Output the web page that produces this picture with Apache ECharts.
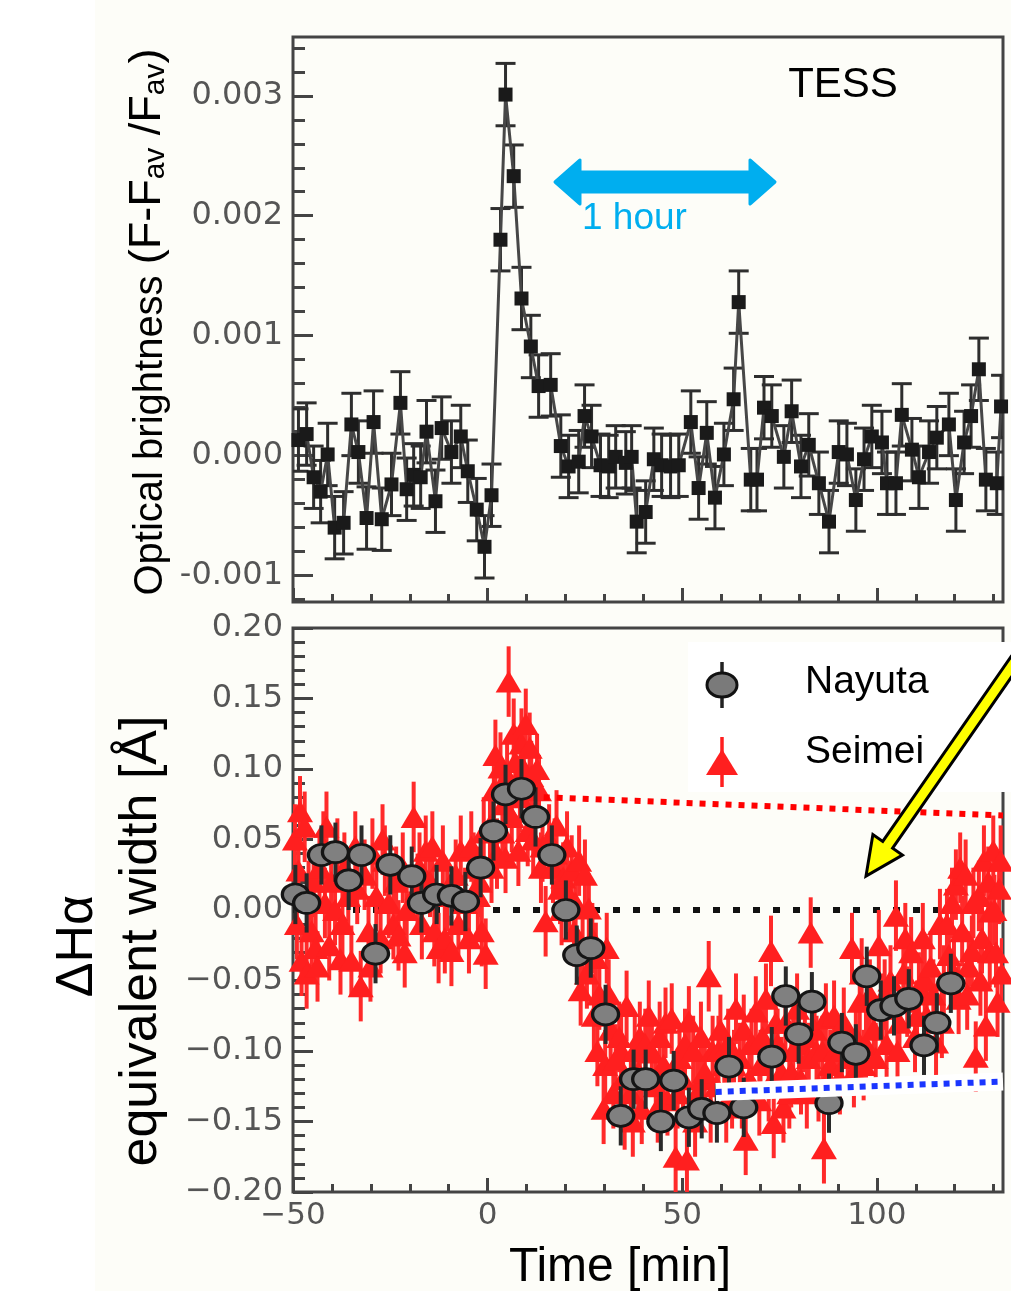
<!DOCTYPE html>
<html>
<head>
<meta charset="utf-8">
<script src="https://cdn.jsdelivr.net/npm/echarts@6/dist/echarts.min.js"></script>
<style>
html, body { margin: 0; padding: 0; background: #fff; }
#main { width: 1011px; height: 1291px; }
</style>
</head>
<body>
<div id="main"></div>
<script>
// TESS light curve [time (min), (F-Fav)/Fav]
var tessData = [
  [-48.6, 0.00013], [-46.5, 0.00018], [-44.7, -0.00018], [-42.9, -0.00030], [-41.1, 0.00001],
  [-39.3, -0.00060], [-37.0, -0.00056], [-35.0, 0.00026], [-33.2, 0.00003], [-31.1, -0.00052],
  [-29.3, 0.00028], [-27.2, -0.00053], [-24.7, -0.00024], [-22.4, 0.00044], [-20.8, -0.00028],
  [-19.0, -0.00016], [-17.2, -0.00018], [-15.7, 0.00020], [-13.4, -0.00038], [-11.8, 0.00023],
  [-9.3, 0.00003], [-6.9, 0.00016], [-5.1, -0.00013], [-2.8, -0.00045], [-0.8, -0.00076],
  [1.0, -0.00033], [3.3, 0.00180], [4.6, 0.00301], [6.7, 0.00233], [8.7, 0.00131],
  [11.1, 0.00091], [13.1, 0.00058], [16.2, 0.00059], [18.8, 0.00008], [20.8, -0.00009],
  [23.4, -0.00005], [24.9, 0.00033], [26.7, 0.00016], [29.0, -0.00008], [31.1, -0.00009],
  [32.9, -0.00001], [35.5, -0.00006], [37.0, -0.00001], [38.3, -0.00055], [40.6, -0.00047],
  [42.7, -0.00003], [44.7, -0.00008], [47.0, -0.00009], [49.1, -0.00008], [52.2, 0.00028],
  [54.2, -0.00027], [56.3, 0.00019], [58.4, -0.00035], [60.7, 0.00001], [63.2, 0.00047],
  [64.5, 0.00128], [67.6, -0.00020], [69.2, -0.00020], [71.0, 0.00040], [73.0, 0.00033],
  [76.1, -0.00001], [78.1, 0.00037], [80.5, -0.00009], [82.5, 0.00009], [85.1, -0.00023],
  [87.7, -0.00055], [90.2, 0.00003], [92.3, 0.00001], [94.6, -0.00037], [96.7, -0.00003],
  [98.7, 0.00016], [101.3, 0.00011], [102.6, -0.00023], [104.9, -0.00023], [106.4, 0.00034],
  [109.0, 0.00005], [110.8, -0.00018], [113.4, 0.00003], [115.4, 0.00015], [118.5, 0.00026],
  [120.3, -0.00037], [122.4, 0.00011], [124.2, 0.00033], [126.2, 0.00072], [128.0, -0.00020],
  [130.8, -0.00023], [131.9, 0.00041]
];
var tessErr = 0.00026;

// Nayuta H-alpha equivalent width change [time (min), value]
var nayutaData = [
  [-49.4, 0.011], [-46.5, 0.005], [-42.7, 0.039], [-39.1, 0.041], [-35.7, 0.021],
  [-32.4, 0.039], [-28.8, -0.031], [-25.0, 0.032], [-19.5, 0.024], [-17.0, 0.005],
  [-13.1, 0.011], [-9.3, 0.010], [-5.7, 0.006], [-1.8, 0.030], [1.5, 0.056],
  [4.6, 0.082], [8.7, 0.086], [12.3, 0.066], [16.5, 0.039], [20.1, 0.000],
  [22.9, -0.032], [26.5, -0.027], [30.3, -0.074], [34.2, -0.146], [37.5, -0.120],
  [40.6, -0.120], [44.5, -0.150], [47.8, -0.121], [51.7, -0.147], [55.0, -0.141],
  [58.9, -0.144], [62.0, -0.111], [65.8, -0.140], [73.0, -0.104], [76.6, -0.061],
  [79.9, -0.088], [83.3, -0.065], [87.7, -0.137], [91.0, -0.094], [94.6, -0.102],
  [97.4, -0.047], [101.0, -0.071], [104.4, -0.068], [108.2, -0.063], [112.1, -0.096],
  [115.4, -0.080], [119.0, -0.052]
];
var nayutaErr = 0.021;

// Seimei H-alpha equivalent width change [time (min), value]
var seimeiData = [
  // before the flare
  [-49.5, 0.050], [-49.0, -0.010], [-48.6, 0.028], [-48.2, 0.070], [-47.8, -0.036],
  [-47.0, 0.059], [-46.5, -0.045], [-46.0, 0.010], [-45.2, -0.015], [-44.7, 0.020],
  [-44.2, -0.027], [-43.7, -0.040], [-43.2, 0.030], [-42.2, 0.045], [-41.8, 0.005],
  [-41.4, 0.059], [-40.7, -0.025], [-40.2, 0.020], [-39.2, 0.000], [-38.6, 0.040],
  [-37.8, -0.035], [-37.3, -0.010], [-36.8, 0.030], [-35.8, 0.010], [-35.0, -0.036],
  [-34.0, 0.045], [-33.5, 0.015], [-32.6, -0.054], [-31.6, 0.025], [-30.6, -0.015],
  [-30.1, -0.040], [-29.6, 0.040], [-28.6, 0.010], [-27.5, -0.020], [-27.0, 0.050],
  [-26.4, 0.035], [-25.4, 0.005], [-24.2, -0.010], [-23.5, 0.020], [-22.9, -0.018],
  [-21.8, 0.030], [-21.3, -0.030], [-20.8, 0.000], [-19.0, 0.066], [-18.0, 0.015],
  [-17.5, 0.030], [-16.9, -0.010], [-15.9, 0.042], [-14.8, 0.020], [-14.2, 0.045],
  [-13.7, -0.015], [-12.6, -0.027], [-11.5, 0.035], [-11.0, -0.020], [-10.4, 0.010],
  [-9.3, -0.029], [-8.2, 0.025], [-7.5, -0.010], [-6.9, 0.042], [-5.8, 0.005],
  [-4.8, -0.020], [-4.2, 0.045], [-3.6, 0.030], [-2.5, 0.010], [-2.0, 0.020],
  [-1.5, -0.015], [-1.0, 0.055], [-0.5, -0.031],
  // flare peak
  [0.6, 0.060], [1.0, 0.030], [1.6, 0.085], [2.0, 0.110], [2.4, 0.040],
  [3.3, 0.101], [3.8, 0.055], [4.2, 0.075], [4.6, 0.037], [5.0, 0.095],
  [5.4, 0.162], [6.2, 0.066], [6.7, 0.125], [7.1, 0.105], [7.9, 0.042],
  [8.3, 0.080], [8.7, 0.118], [9.3, 0.100], [9.8, 0.132], [10.3, 0.056],
  [10.8, 0.115], [11.2, 0.095], [11.7, 0.050], [12.2, 0.070], [12.7, 0.100],
  [13.2, 0.085], [13.7, 0.030], [14.1, 0.045], [14.9, -0.008],
  // decline
  [15.8, 0.050], [16.8, 0.030], [17.2, 0.040], [17.7, 0.060], [18.6, 0.015],
  [19.0, 0.000], [19.4, 0.023], [20.4, 0.045], [21.0, 0.010], [21.6, 0.028],
  [22.2, -0.015], [22.6, 0.005], [23.5, 0.035], [23.9, -0.057], [24.4, -0.030],
  [25.0, 0.025], [25.5, -0.045], [26.0, 0.001], [26.9, -0.020], [27.3, -0.075],
  [27.8, -0.034], [28.2, -0.100], [28.7, -0.060], [29.8, -0.141], [30.2, -0.110],
  [30.6, -0.027], [31.1, -0.060], [31.6, -0.085], [32.3, -0.130], [32.9, -0.106],
  [33.8, -0.090], [34.3, -0.100], [34.8, -0.120], [35.2, -0.145], [35.7, -0.068],
  // low state
  [36.8, -0.130], [37.3, -0.150], [37.8, -0.100], [38.7, -0.115], [39.1, -0.090],
  [39.6, -0.141], [40.5, -0.095], [41.4, -0.075], [42.2, -0.101], [43.2, -0.125],
  [43.7, -0.140], [44.2, -0.090], [45.2, -0.110], [45.7, -0.080], [46.2, -0.135],
  [47.3, -0.077], [48.3, -0.175], [48.8, -0.130], [49.3, -0.105], [50.2, -0.120],
  [50.7, -0.095], [51.2, -0.177], [51.7, -0.079], [52.8, -0.100], [53.3, -0.150],
  [53.8, -0.130], [54.8, -0.090], [55.3, -0.120], [55.8, -0.115], [56.8, -0.047],
  [57.3, -0.140], [57.8, -0.100], [58.8, -0.125], [59.3, -0.100], [59.8, -0.085],
  [60.8, -0.110], [61.3, -0.140], [61.8, -0.095], [62.8, -0.130], [63.3, -0.110],
  [63.8, -0.070], [64.8, -0.105], [65.3, -0.130], [65.8, -0.085], [66.3, -0.163],
  [67.2, -0.120], [67.8, -0.095], [68.9, -0.072], [69.8, -0.135], [70.1, -0.110],
  [70.6, -0.090], [71.5, -0.063], [72.2, -0.125], [72.8, -0.029], [73.5, -0.151],
  [74.0, -0.080], [74.5, -0.095], [75.5, -0.115], [76.0, -0.140], [76.5, -0.080],
  [77.5, -0.130], [78.0, -0.115], [78.5, -0.100], [79.5, -0.070], [80.0, -0.095],
  [80.5, -0.120], [81.5, -0.090], [82.0, -0.130], [82.5, -0.105], [83.0, -0.016],
  [84.0, -0.085], [84.5, -0.100], [85.0, -0.125], [86.0, -0.100], [86.4, -0.169],
  [86.9, -0.077], [87.5, -0.120], [88.0, -0.110], [89.0, -0.075], [89.5, -0.099],
  // recovery
  [90.5, -0.120], [91.0, -0.100], [91.5, -0.080], [92.5, -0.105], [93.6, -0.027],
  [94.1, -0.115], [94.6, -0.090], [95.6, -0.065], [96.1, -0.045], [96.6, -0.110],
  [97.2, -0.096], [98.2, -0.060], [99.2, -0.085], [99.7, -0.105], [100.5, -0.025],
  [101.5, -0.070], [102.0, -0.060], [102.5, -0.095], [103.5, -0.050], [104.9, -0.004],
  [105.3, -0.100], [105.8, -0.080], [106.8, -0.045], [107.3, -0.020], [107.8, -0.065],
  [108.8, -0.030], [109.8, -0.090], [110.3, -0.075], [110.8, -0.055], [111.8, -0.020],
  [112.3, -0.050], [112.8, -0.075], [113.8, -0.040], [114.5, -0.060], [115.2, -0.094],
  [116.2, -0.010], [116.7, -0.080], [117.2, -0.050], [118.0, -0.010], [118.5, -0.032],
  [119.3, 0.005], [119.8, -0.045], [120.3, 0.018], [121.0, -0.063], [121.4, 0.030],
  [121.9, -0.015], [122.8, 0.025], [123.2, -0.060], [123.6, -0.040], [124.4, -0.029],
  [124.8, 0.005], [125.4, -0.104], [126.2, 0.010], [126.6, -0.050], [127.0, -0.020],
  [127.5, 0.035], [128.0, -0.082], [128.6, 0.020], [129.0, -0.030], [129.3, -0.001],
  [129.9, 0.042], [130.2, 0.000], [130.6, -0.030], [131.0, -0.065], [131.4, 0.015],
  [131.8, 0.035], [132.1, -0.045]
];
var seimeiErr = 0.025;

// reference lines drawn on the lower panel
var zeroLine = [[-50, 0], [132.4, 0]];
var redLevel = [[14.4, 0.080], [132.4, 0.067]];
var blueLevel = [[58.6, -0.129], [132.4, -0.1217]];

// axis ticks
var timeTicks = [-50, 0, 50, 100];
var topTicks = [-0.001, 0, 0.001, 0.002, 0.003];
var bottomTicks = [-0.2, -0.15, -0.1, -0.05, 0, 0.05, 0.1, 0.15, 0.2];

function steps(a, b, s) {
  var out = [];
  for (var v = a; v <= b + s / 2; v += s) out.push(Math.round(v / s) * s);
  return out;
}
var timeMinor = steps(-50, 130, 10);
var topMinor = steps(-0.0012, 0.0034, 0.0002);
var bottomMinor = steps(-0.2, 0.2, 0.01);

var FONT = 'Liberation Sans, Arial, sans-serif';
var TICKFONT = 'DejaVu Sans, sans-serif';
var AX = '#444';

function errBars(err, color, width, cap) {
  return function (params, api) {
    var x = api.value(0), y = api.value(1);
    var lo = api.coord([x, y - err]);
    var hi = api.coord([x, y + err]);
    var st = { stroke: color, lineWidth: width };
    var kids = [{ type: 'line', shape: { x1: lo[0], y1: lo[1], x2: hi[0], y2: hi[1] }, style: st }];
    if (cap) {
      kids.push({ type: 'line', shape: { x1: lo[0] - cap, y1: lo[1], x2: lo[0] + cap, y2: lo[1] }, style: st });
      kids.push({ type: 'line', shape: { x1: hi[0] - cap, y1: hi[1], x2: hi[0] + cap, y2: hi[1] }, style: st });
    }
    return { type: 'group', children: kids };
  };
}

function xAx(grid, ticks, len, labels) {
  return {
    type: 'value', gridIndex: grid, min: -50, max: 132.4, position: 'bottom',
    axisLine: { show: false, onZero: false }, splitLine: { show: false },
    axisTick: { show: true, inside: true, length: len, customValues: ticks, lineStyle: { color: AX, width: 3 } },
    axisLabel: labels ? {
      show: true, customValues: ticks, margin: 8, fontSize: 31, fontFamily: TICKFONT, color: '#555',
      formatter: function (v) { return v < 0 ? '\u2212' + Math.abs(v) : String(v); }
    } : { show: false }
  };
}

function yAx(grid, min, max, ticks, len, labelFmt) {
  return {
    type: 'value', gridIndex: grid, min: min, max: max, position: 'left',
    axisLine: { show: false, onZero: false }, splitLine: { show: false },
    axisTick: { show: true, inside: true, length: len, customValues: ticks, lineStyle: { color: AX, width: 3 } },
    axisLabel: labelFmt ? {
      show: true, customValues: ticks, margin: 10, fontSize: 32, fontFamily: TICKFONT, color: '#555',
      formatter: labelFmt
    } : { show: false }
  };
}

function arrow(x1, y1, x2, y2, sw, hw, hl) {
  var dx = x2 - x1, dy = y2 - y1, L = Math.sqrt(dx * dx + dy * dy);
  var ux = dx / L, uy = dy / L, nx = -uy, ny = ux;
  var bx = x2 - ux * hl, by = y2 - uy * hl;
  return [
    [x1 + nx * sw, y1 + ny * sw], [bx + nx * sw, by + ny * sw], [bx + nx * hw, by + ny * hw],
    [x2, y2], [bx - nx * hw, by - ny * hw], [bx - nx * sw, by - ny * sw], [x1 - nx * sw, y1 - ny * sw]
  ];
}

var myChart = echarts.init(document.getElementById('main'), null, { renderer: 'canvas' });

var option = {
  animation: false,
  backgroundColor: '#ffffff',
  grid: [
    { left: 293, top: 37, width: 710, height: 565, show: true, borderColor: AX, borderWidth: 3, backgroundColor: '#fdfdf8' },
    { left: 293, top: 628, width: 710, height: 564, show: true, borderColor: AX, borderWidth: 3, backgroundColor: '#fdfdf8' }
  ],
  xAxis: [
    xAx(0, timeTicks, 14, false),
    xAx(0, timeMinor, 8, false),
    xAx(1, timeTicks, 14, true),
    xAx(1, timeMinor, 8, false)
  ],
  yAxis: [
    yAx(0, -0.00122, 0.00349, topTicks, 20, function (v) {
      return (v < 0 ? '-' : '') + Math.abs(v).toFixed(3);
    }),
    yAx(0, -0.00122, 0.00349, topMinor, 12, null),
    yAx(1, -0.2, 0.2, bottomTicks, 20, function (v) {
      return (v < 0 ? '\u2212' : '') + Math.abs(v).toFixed(2);
    }),
    yAx(1, -0.2, 0.2, bottomMinor, 12, null)
  ],
  series: [
    // upper panel: TESS
    {
      type: 'custom', xAxisIndex: 0, yAxisIndex: 0, z: 2, clip: true,
      renderItem: errBars(tessErr, '#2e2e2e', 3, 10),
      data: tessData, silent: true
    },
    {
      type: 'line', xAxisIndex: 0, yAxisIndex: 0, z: 3,
      data: tessData, symbol: 'rect', symbolSize: 14,
      itemStyle: { color: '#1a1a1a' },
      lineStyle: { color: '#474747', width: 3 },
      silent: true
    },
    // lower panel
    {
      type: 'line', xAxisIndex: 2, yAxisIndex: 2, z: 1, data: zeroLine, symbol: 'none', silent: true,
      lineStyle: { color: '#111', width: 6, type: [7, 13] }
    },
    {
      type: 'custom', xAxisIndex: 2, yAxisIndex: 2, z: 2, clip: true,
      renderItem: errBars(seimeiErr, '#ff2a2a', 4, 0),
      data: seimeiData, silent: true
    },
    {
      name: 'Seimei', type: 'scatter', xAxisIndex: 2, yAxisIndex: 2, z: 3,
      data: seimeiData, symbol: 'triangle', symbolSize: [26, 22],
      itemStyle: { color: '#ff1f1f', opacity: 1 }, silent: true
    },
    {
      type: 'custom', xAxisIndex: 2, yAxisIndex: 2, z: 4, clip: true,
      renderItem: errBars(nayutaErr, '#2a2a2a', 4, 0),
      data: nayutaData, silent: true
    },
    {
      name: 'Nayuta', type: 'scatter', xAxisIndex: 2, yAxisIndex: 2, z: 5,
      data: nayutaData, symbol: 'circle', symbolSize: [26, 21],
      itemStyle: { color: '#808080', borderColor: '#151515', borderWidth: 3, opacity: 1 }, silent: true
    },
    {
      type: 'line', xAxisIndex: 2, yAxisIndex: 2, z: 6, data: blueLevel, symbol: 'none', silent: true,
      lineStyle: { color: '#ffffff', width: 18 }
    },
    {
      type: 'line', xAxisIndex: 2, yAxisIndex: 2, z: 7, data: blueLevel, symbol: 'none', silent: true,
      lineStyle: { color: '#1a35ff', width: 6, type: [6, 6] }
    },
    {
      type: 'line', xAxisIndex: 2, yAxisIndex: 2, z: 7, data: redLevel, symbol: 'none', silent: true,
      lineStyle: { color: '#ff0000', width: 6, type: [6, 7] }
    }
  ],
  graphic: [
    { type: 'rect', z: -10, silent: true, shape: { x: 95, y: 0, width: 916, height: 1291 }, style: { fill: '#fdfdf8' } },
    // axis titles
    {
      type: 'text', x: 148, y: 322, rotation: Math.PI / 2, z: 50,
      style: {
        text: '{m|Optical brightness }{p|(F-F}{s|av}{p| /F}{s|av}{p|)}',
        align: 'center', verticalAlign: 'middle', fill: '#000', fontFamily: FONT,
        rich: {
          m: { fontSize: 40, fontFamily: FONT, fill: '#000', verticalAlign: 'bottom' },
          p: { fontSize: 45, fontFamily: FONT, fill: '#000', verticalAlign: 'bottom' },
          s: { fontSize: 30, fontFamily: FONT, fill: '#000', verticalAlign: 'bottom' }
        }
      }
    },
    {
      type: 'text', x: 78, y: 946, rotation: Math.PI / 2, z: 50,
      style: { text: '\u0394H\u03b1', fontSize: 52, fontFamily: FONT, fill: '#000', align: 'center', verticalAlign: 'middle' }
    },
    {
      type: 'text', x: 142, y: 941, rotation: Math.PI / 2, z: 50,
      style: { text: 'equivalent width [\u00c5]', fontSize: 52, fontFamily: FONT, fill: '#000', align: 'center', verticalAlign: 'middle' }
    },
    {
      type: 'text', x: 620, y: 1268, z: 50,
      style: { text: 'Time [min]', fontSize: 48, fontFamily: FONT, fill: '#000', align: 'center', verticalAlign: 'middle' }
    },
    // annotations in the upper panel
    {
      type: 'text', x: 843, y: 85, z: 50,
      style: { text: 'TESS', fontSize: 42, fontFamily: FONT, fill: '#000', align: 'center', verticalAlign: 'middle' }
    },
    {
      type: 'polygon', z: 50,
      shape: { points: [[555, 182], [580, 160], [580, 172], [750, 172], [750, 160], [775, 182], [750, 204], [750, 192], [580, 192], [580, 204]] },
      style: { fill: '#00aeef', stroke: '#00aeef', lineWidth: 3, lineJoin: 'round' }
    },
    {
      type: 'text', x: 582, y: 219, z: 50,
      style: { text: '1 hour', fontSize: 37, fontFamily: FONT, fill: '#00aeef', align: 'left', verticalAlign: 'middle' }
    },
    // legend box
    { type: 'rect', z: 40, shape: { x: 688, y: 642, width: 323, height: 150 }, style: { fill: '#ffffff' } },
    { type: 'line', z: 41, shape: { x1: 722, y1: 662, x2: 722, y2: 708 }, style: { stroke: '#222', lineWidth: 3.5 } },
    { type: 'ellipse', z: 42, shape: { cx: 722, cy: 685, rx: 15, ry: 12 }, style: { fill: '#7a7a7a', stroke: '#111', lineWidth: 3 } },
    { type: 'line', z: 41, shape: { x1: 722, y1: 737, x2: 722, y2: 787 }, style: { stroke: '#ff1f1f', lineWidth: 3.5 } },
    { type: 'polygon', z: 42, shape: { points: [[706, 775], [722, 749], [738, 775]] }, style: { fill: '#ff1f1f' } },
    {
      type: 'text', x: 805, y: 682, z: 43,
      style: { text: 'Nayuta', fontSize: 39, fontFamily: FONT, fill: '#000', align: 'left', verticalAlign: 'middle' }
    },
    {
      type: 'text', x: 805, y: 752, z: 43,
      style: { text: 'Seimei', fontSize: 39, fontFamily: FONT, fill: '#000', align: 'left', verticalAlign: 'middle' }
    },
    // yellow arrow
    {
      type: 'polygon', z: 60,
      shape: { points: arrow(1016, 660, 866, 876, 6, 18, 38) },
      style: { fill: '#ffff00', stroke: '#000', lineWidth: 3, lineJoin: 'miter' }
    }
  ]
};

myChart.setOption(option);
</script>
</body>
</html>
